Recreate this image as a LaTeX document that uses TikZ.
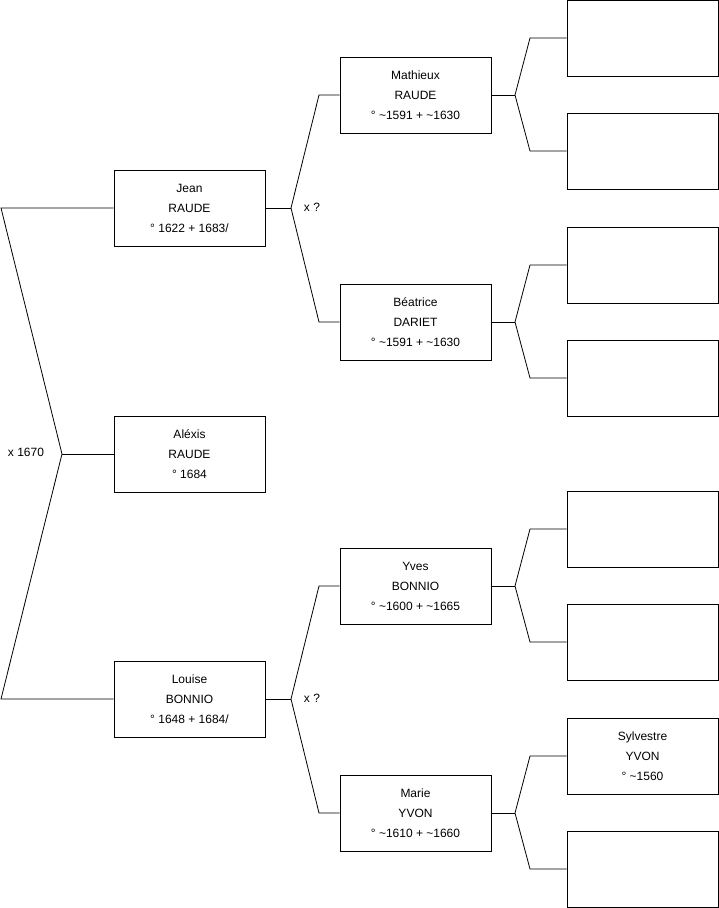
\documentclass[tikz,border=0pt]{standalone}
\usepackage{fontspec}
\setmainfont{Liberation Sans}
\begin{document}
\begin{tikzpicture}[x=1pt,y=-1pt,
  box/.style={draw=black,line width=0.8pt,minimum width=151pt,minimum height=76pt,inner sep=0pt,align=center,font=\fontsize{12}{20}\selectfont},
  conn/.style={draw=black,line width=0.8pt},
  lbl/.style={font=\fontsize{12}{14}\selectfont,inner sep=0pt}]
\useasboundingbox (0,0) rectangle (719,908);
% generation 1
\node[box] (jean) at (189.5,208) {Jean\\RAUDE\\° 1622 + 1683/};
\node[box] (alexis) at (189.5,454) {Aléxis\\RAUDE\\° 1684};
\node[box] (louise) at (189.5,699) {Louise\\BONNIO\\° 1648 + 1684/};
% generation 2
\node[box] (mathieux) at (415.5,95) {Mathieux\\RAUDE\\° \textasciitilde1591 + \textasciitilde1630};
\node[box] (beatrice) at (415.5,322) {Béatrice\\DARIET\\° \textasciitilde1591 + \textasciitilde1630};
\node[box] (yves) at (415.5,586) {Yves\\BONNIO\\° \textasciitilde1600 + \textasciitilde1665};
\node[box] (marie) at (415.5,813) {Marie\\YVON\\° \textasciitilde1610 + \textasciitilde1660};
% generation 3
\node[box] (r1) at (642.5,38) {};
\node[box] (r2) at (642.5,151) {};
\node[box] (r3) at (642.5,265) {};
\node[box] (r4) at (642.5,378) {};
\node[box] (r5) at (642.5,529) {};
\node[box] (r6) at (642.5,642) {};
\node[box] (r7) at (642.5,756) {Sylvestre\\YVON\\° \textasciitilde1560};
\node[box] (r8) at (642.5,869) {};
% left bracket
\coordinate (lt) at (1,208);
\coordinate (lm) at (62,454);
\coordinate (lb) at (1,699);
\draw[conn] (jean.west) -- (lt) -- (lm) -- (lb) -- (louise.west);
\draw[conn] (lm) -- (alexis.west);
\node[lbl] (m0) at (26,452) {x 1670};
% Jean's parents
\coordinate (jj) at (291,208);
\coordinate (ja) at (319,95);
\coordinate (jb) at (319,322);
\draw[conn] (jean.east) -- (jj);
\draw[conn] (mathieux.west) -- (ja) -- (jj) -- (jb) -- (beatrice.west);
\node[lbl] (m1) at (312,207) {x ?};
% Louise's parents
\coordinate (lj) at (291,699);
\coordinate (la) at (319,586);
\coordinate (lc) at (319,813);
\draw[conn] (louise.east) -- (lj);
\draw[conn] (yves.west) -- (la) -- (lj) -- (lc) -- (marie.west);
\node[lbl] (m2) at (312,698) {x ?};
% Mathieux
\coordinate (mj) at (515,95);
\coordinate (ma) at (530,38);
\coordinate (mb) at (530,151);
\draw[conn] (mathieux.east) -- (mj);
\draw[conn] (r1.west) -- (ma) -- (mj) -- (mb) -- (r2.west);
% Beatrice
\coordinate (bj) at (515,322);
\coordinate (ba) at (530,265);
\coordinate (bb) at (530,378);
\draw[conn] (beatrice.east) -- (bj);
\draw[conn] (r3.west) -- (ba) -- (bj) -- (bb) -- (r4.west);
% Yves
\coordinate (yj) at (515,586);
\coordinate (ya) at (530,529);
\coordinate (yb) at (530,642);
\draw[conn] (yves.east) -- (yj);
\draw[conn] (r5.west) -- (ya) -- (yj) -- (yb) -- (r6.west);
% Marie
\coordinate (mrj) at (515,813);
\coordinate (mra) at (530,756);
\coordinate (mrb) at (530,869);
\draw[conn] (marie.east) -- (mrj);
\draw[conn] (r7.west) -- (mra) -- (mrj) -- (mrb) -- (r8.west);
\end{tikzpicture}
\end{document}
